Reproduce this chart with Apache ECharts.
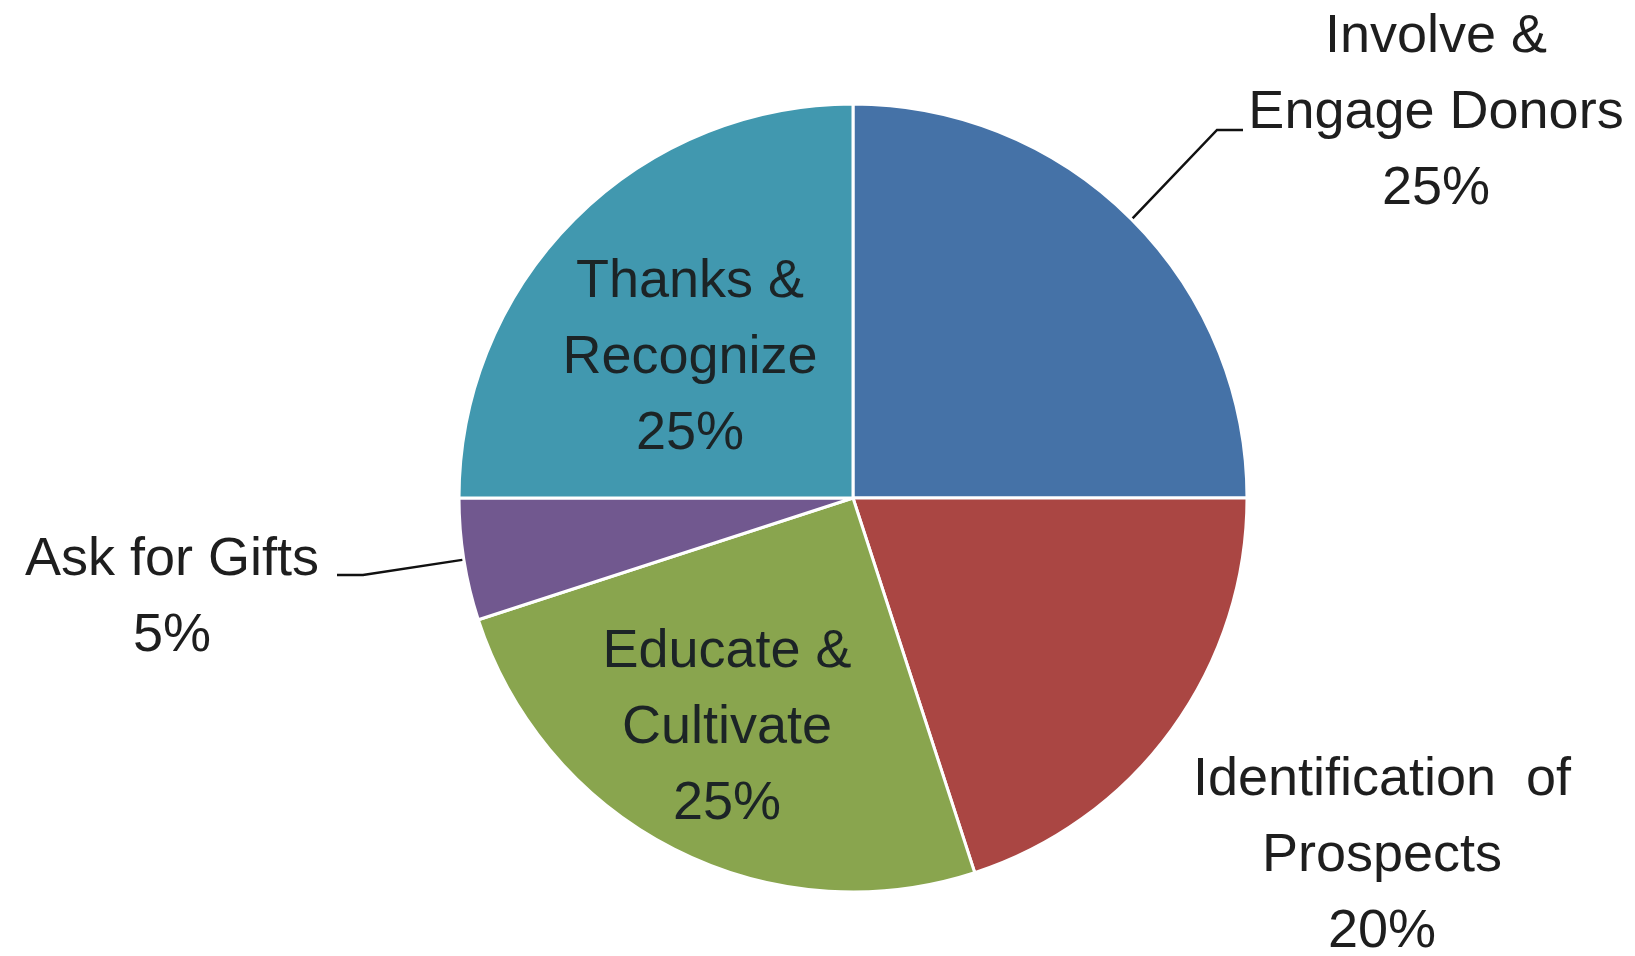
<!DOCTYPE html>
<html lang="en">
<head>
  <meta charset="UTF-8">
  <title>Donor cycle</title>
  <script src="https://cdn.jsdelivr.net/npm/echarts@6/dist/echarts.min.js"></script>
  <style>
    html, body { margin: 0; padding: 0; background: #fff; }
  </style>
</head>
<body>
  <div id="pie_chart" style="width:1635px;height:956px;"></div>

  <script>
    // data
    var names = ['Involve &\nEngage Donors', 'Identification  of\nProspects', 'Educate &\nCultivate', 'Ask for Gifts', 'Thanks &\nRecognize'];
    var values = [25, 20, 25, 5, 25];
    var colors = ['#4572A7', '#AA4643', '#89A54E', '#71588F', '#4198AF'];
    var inside = [false, false, true, false, true];

    // where each label block sits (center of text), plus leader bend/end if any
    var labelSpots = [
      { x: 1436, y: 113, bend: [1217, 130], end: [1243, 130] },
      { x: 1382, y: 856 },
      { x: 727, y: 728 },
      { x: 172, y: 598, bend: [363, 575], end: [337, 575] },
      { x: 690, y: 358 }
    ];

    var chart = echarts.init(document.getElementById('pie_chart'));

    var seriesData = [];
    for (var i = 0; i < names.length; i++) {
      seriesData.push({
        name: names[i],
        value: values[i],
        itemStyle: { color: colors[i] },
        label: { position: inside[i] ? 'inside' : 'outside', color: inside[i] ? '#1c2426' : '#1e1e1e' },
        labelLine: { show: !!labelSpots[i].bend }
      });
    }

    var option = {
      backgroundColor: '#ffffff',
      animation: false,
      series: [{
        type: 'pie',
        center: [853, 498],
        radius: 394,
        startAngle: 90,
        clockwise: true,
        itemStyle: { borderColor: '#ffffff', borderWidth: 3 },
        label: {
          show: true,
          formatter: function (p) { return p.name + '\n' + p.value + '%'; },
          fontFamily: 'Liberation Sans',
          fontSize: 54,
          lineHeight: 76,
          align: 'center'
        },
        labelLine: {
          show: true,
          lineStyle: { color: '#111111', width: 2.5 }
        },
        labelLayout: function (params) {
          var s = labelSpots[params.dataIndex];
          var out = { x: s.x, y: s.y, align: 'center', verticalAlign: 'middle' };
          if (s.bend && params.labelLinePoints) {
            out.labelLinePoints = [params.labelLinePoints[0], s.bend, s.end];
          }
          return out;
        },
        emphasis: { disabled: true },
        data: seriesData
      }]
    };

    chart.setOption(option);
  </script>
</body>
</html>
